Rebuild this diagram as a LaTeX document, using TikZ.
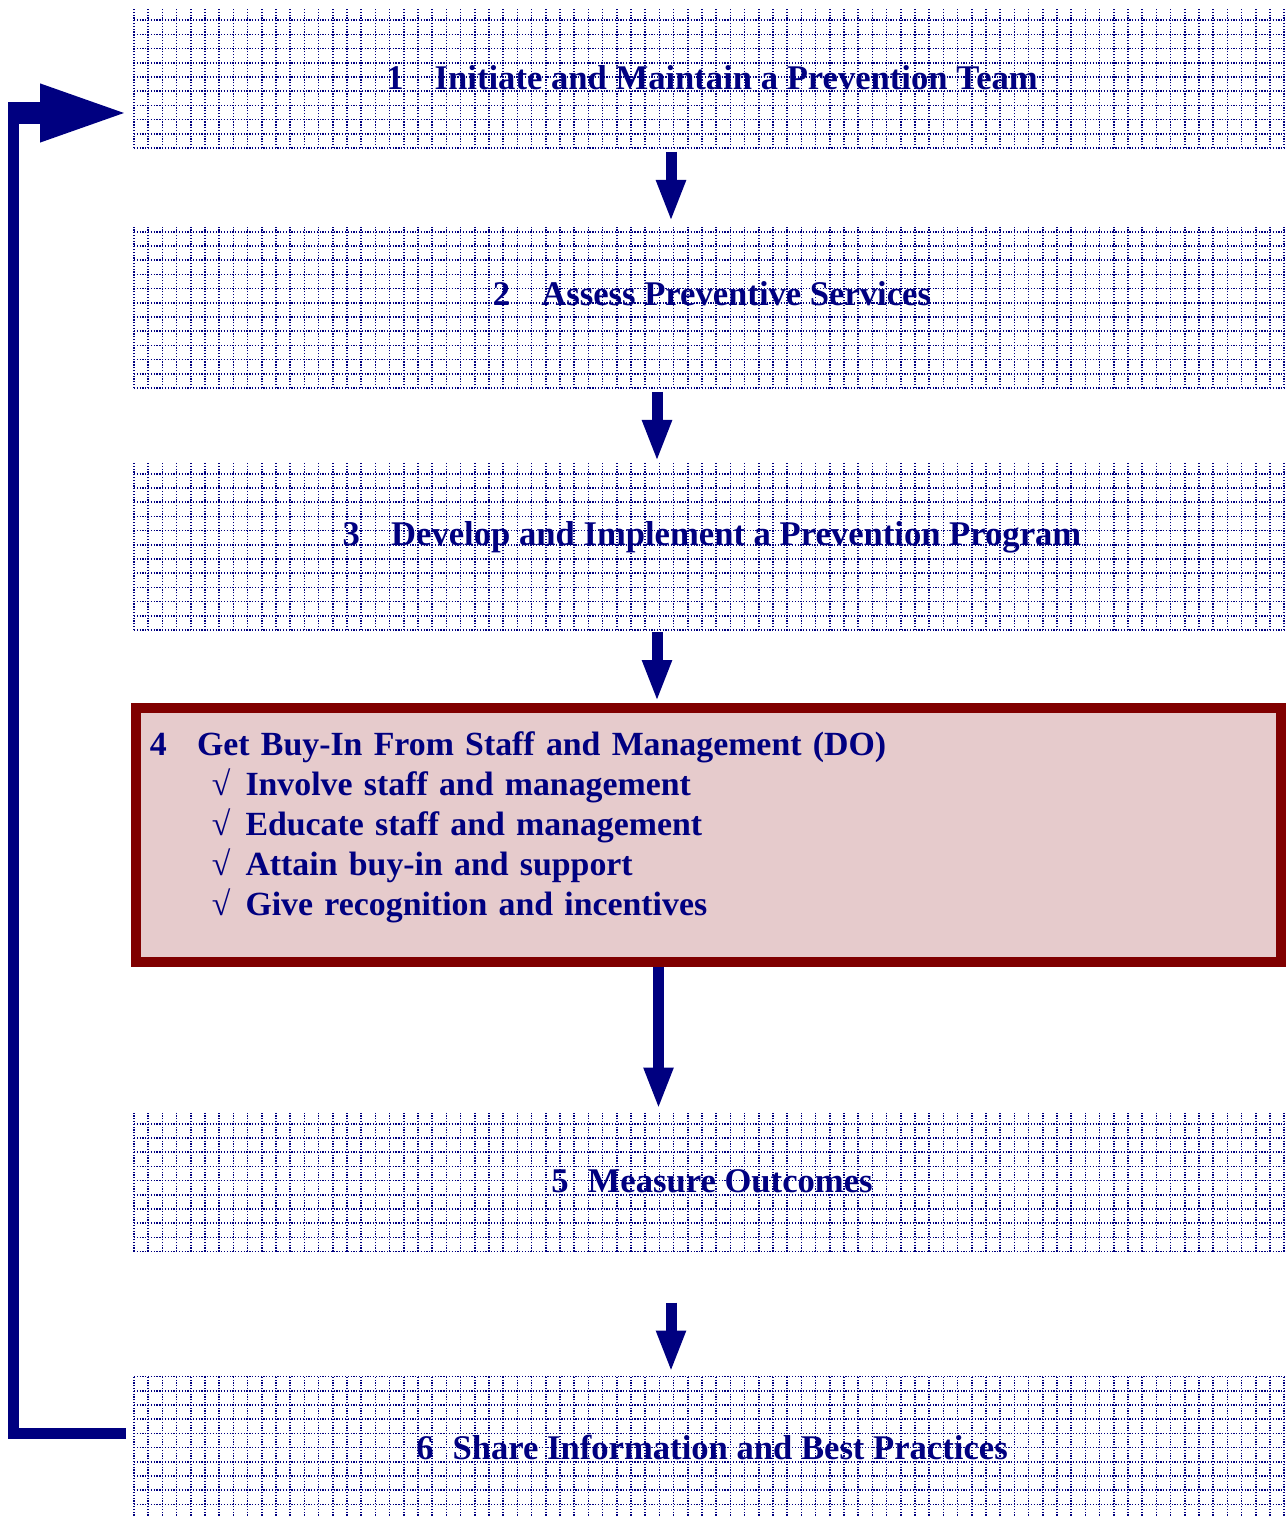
\documentclass[tikz,border=0pt]{standalone}
\usepackage{fontspec}
\setmainfont{Liberation Serif}
\usetikzlibrary{positioning, arrows.meta}
\pgfdeclarelayer{background}
\pgfsetlayers{background,main}
\definecolor{navy}{HTML}{000080}
\definecolor{maroon}{HTML}{800000}
\definecolor{rosefill}{HTML}{E6CBCC}
\tikzset{
gridline/.style={navy, line width=0.9pt, dash pattern=on 0.7pt off 0.9pt}, % dotted grid of the plain boxes
boxfont/.style={text=navy, font=\fontsize{19.7}{22.8}\selectfont\bfseries}, % bold navy serif text
phase/.style={boxfont, minimum width=23.12cm, outer sep=0pt, inner sep=0pt}, % a stage box, grid added below
current/.style={boxfont, font=\fontsize{19.25}{22.8}\selectfont\bfseries, draw=maroon, fill=rosefill,
  line width=0.2cm, minimum width=22.91cm, minimum height=5.07cm, inner xsep=0.28cm,
  text width=22.35cm, align=left}, % the highlighted stage
flow/.style={navy, line width=0.22cm, -{Triangle[length=0.84cm, width=0.54cm]}}, % short down arrows
feedback/.style={navy, line width=0.22cm, line join=miter, -{Triangle[length=1.7cm, width=1.12cm]}}, % loop back to stage 1
}
\begin{document}
\begin{tikzpicture}
\useasboundingbox (0,0) rectangle (25.72,-30.32);
\node[phase, minimum height=2.8cm] (n1) at (14.24,-1.56) {1\hspace{0.9em}Initiate and Maintain a Prevention Team};
\node[phase, minimum height=3.26cm, text depth=0.51cm, below=1.54cm of n1] (n2) {2\hspace{0.9em}Assess Preventive Services};
\node[phase, minimum height=3.34cm, text depth=0.51cm, below=1.5cm of n2] (n3) {3\hspace{0.9em}Develop and Implement a Prevention Program};
\node[current, below=1.46cm of n3, xshift=-0.07cm] (n4) {4\hspace{0.9em}Get Buy-In From Staff and Management (DO)\\
  \hspace*{1.24cm}√\hspace{0.45em}Involve staff and management\\
  \hspace*{1.24cm}√\hspace{0.45em}Educate staff and management\\
  \hspace*{1.24cm}√\hspace{0.45em}Attain buy-in and support\\
  \hspace*{1.24cm}√\hspace{0.45em}Give recognition and incentives\rule[-0.46cm]{0pt}{0.46cm}};
\node[phase, minimum height=2.8cm, below=2.9cm of n4, xshift=0.07cm] (n5) {5\hspace{0.55em}Measure Outcomes};
\node[phase, minimum height=2.84cm, below=2.5cm of n5] (n6) {6\hspace{0.55em}Share Information and Best Practices};

% grid behind the plain boxes
\begin{pgfonlayer}{background}
\foreach \b in {n1,n2,n3,n5,n6}
  \draw[gridline, shift={(\b.south west)}] (0,0) grid[step=0.284cm] (\b.north east);
\end{pgfonlayer}

\draw[flow] ([xshift=-0.82cm, yshift=-0.08cm]n1.south) -- ([xshift=-0.82cm, yshift=0.06cm]n2.north);
\draw[flow] ([xshift=-1.1cm, yshift=-0.08cm]n2.south) -- ([xshift=-1.1cm, yshift=0.02cm]n3.north);
\draw[flow] ([xshift=-1.1cm, yshift=-0.04cm]n3.south) -- ([xshift=-1.1cm, yshift=0.02cm]n3.south |- n4.north);
\draw[flow] ([xshift=-1cm]n4.south) -- ([xshift=-1cm, yshift=0.04cm]n4.south |- n5.north);
\draw[flow] ([xshift=-0.82cm, yshift=-1.02cm]n5.south) -- ([xshift=-0.82cm, yshift=0.08cm]n6.north);

\coordinate (turn) at (0.27,-2.26);
\draw[feedback] ([xshift=-0.16cm, yshift=0.29cm]n6.west) -| (turn) -- ([xshift=-0.18cm]n1.west |- turn);
\fill[navy] ([xshift=-0.11cm, yshift=0.22cm]turn) rectangle ++(0.64cm,-0.44cm);
\end{tikzpicture}
\end{document}
